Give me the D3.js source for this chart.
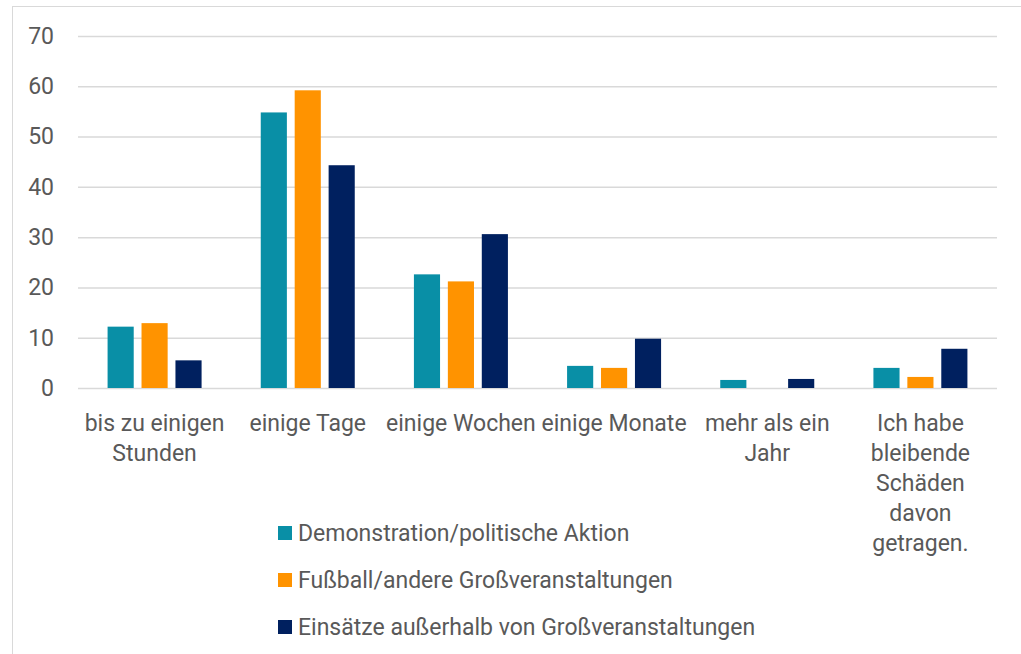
<!DOCTYPE html>
<html>
<head>
<meta charset="utf-8">
<script src="https://cdn.jsdelivr.net/npm/d3@7"></script>
<style>
  body { margin: 0; background: #fff; }
  text { font-family: Roboto, 'Noto Sans', sans-serif; fill: #595959; }
</style>
</head>
<body>
<div id="chart"></div>
<script>
const categories = [
  ['bis zu einigen', 'Stunden'],
  ['einige Tage'],
  ['einige Wochen'],
  ['einige Monate'],
  ['mehr als ein', 'Jahr'],
  ['Ich habe', 'bleibende', 'Schäden', 'davon', 'getragen.']
]
const seriesNames = [
  'Demonstration/politische Aktion',
  'Fußball/andere Großveranstaltungen',
  'Einsätze außerhalb von Großveranstaltungen'
]
const demo = [12.2, 54.8, 22.6, 4.4, 1.6, 4.0]
const fussball = [12.9, 59.2, 21.2, 4.0, 0, 2.2]
const einsaetze = [5.5, 44.3, 30.6, 9.8, 1.8, 7.8]
const colors = ['#098FA6', '#FF9300', '#00205F']
const yTicks = [0, 10, 20, 30, 40, 50, 60, 70]

const width = 1021
const height = 654
const plot = { left: 78, right: 997, top: 36, bottom: 388 }
const fontSize = 23

const svg = d3.select('#chart').append('svg')
  .attr('width', width)
  .attr('height', height)

// outer frame
svg.append('rect')
  .attr('x', 12.5)
  .attr('y', 6.5)
  .attr('width', width + 10)
  .attr('height', height + 10)
  .attr('fill', 'none')
  .attr('stroke', '#d9d9d9')

const scaleX = d3.scaleBand()
  .domain(d3.range(categories.length))
  .range([plot.left, plot.right])

const scaleY = d3.scaleLinear()
  .domain([0, 70])
  .range([plot.bottom, plot.top])

const scaleSeries = d3.scaleBand()
  .domain(d3.range(seriesNames.length))
  .range([0, 94])
  .paddingInner(0.23)

// gridlines + y labels
const axisY = d3.axisLeft(scaleY)
  .tickValues(yTicks)
  .tickSize(plot.left - plot.right)
  .tickPadding(24)

const gy = svg.append('g')
  .attr('transform', `translate(${plot.left},0)`)
  .call(axisY)
gy.select('.domain').remove()
gy.selectAll('.tick line').attr('stroke', '#d9d9d9').attr('stroke-width', 1.5)
gy.selectAll('.tick text')
  .attr('font-size', fontSize)
  .attr('fill', '#595959')
  .style('font-family', 'Roboto, sans-serif')

// bars
const data = [demo, fussball, einsaetze]
const groupOffset = (scaleX.bandwidth() - 94) / 2

data.forEach((values, s) => {
  svg.append('g')
    .selectAll('rect')
    .data(values)
    .join('rect')
    .attr('x', (d, i) => scaleX(i) + groupOffset + scaleSeries(s))
    .attr('y', d => scaleY(d))
    .attr('width', scaleSeries.bandwidth())
    .attr('height', d => scaleY(0) - scaleY(d))
    .attr('fill', colors[s])
})

// category labels
const labels = svg.append('g')
  .selectAll('text')
  .data(categories)
  .join('text')
  .attr('x', (d, i) => scaleX(i) + scaleX.bandwidth() / 2)
  .attr('y', 431)
  .attr('text-anchor', 'middle')
  .attr('font-size', fontSize)

labels.selectAll('tspan')
  .data(d => d)
  .join('tspan')
  .attr('x', function () { return d3.select(this.parentNode).attr('x') })
  .attr('dy', (d, i) => i === 0 ? 0 : 30)
  .text(d => d)

// legend
const legend = svg.append('g')
  .selectAll('g')
  .data(seriesNames)
  .join('g')
  .attr('transform', (d, i) => `translate(278, ${526 + i * 47})`)

legend.append('rect')
  .attr('width', 14)
  .attr('height', 14)
  .attr('fill', (d, i) => colors[i])

legend.append('text')
  .attr('x', 20)
  .attr('y', 15)
  .attr('font-size', fontSize)
  .text(d => d)
</script>
</body>
</html>
